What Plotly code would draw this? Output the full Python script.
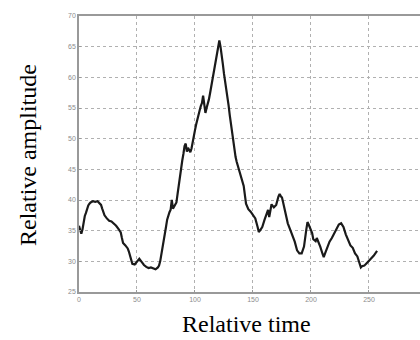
import plotly.graph_objects as go

relative_time = [
    0, 1, 2, 3, 4, 5, 6, 7, 8, 9,
    10, 12, 14, 16, 18, 19, 20, 21, 22, 24,
    26, 28, 30, 32, 34, 36, 37, 38, 40, 42,
    43, 44, 45, 46, 48, 50, 52, 54, 55, 56,
    58, 60, 62, 64, 66, 68, 69, 70, 71, 72,
    73, 74, 75, 76, 77, 78, 79, 80, 81, 82,
    83, 84, 85, 86, 87, 88, 89, 90, 91, 92,
    93, 94, 95, 96, 97, 98, 99, 100, 101, 102,
    103, 104, 105, 106, 107, 108, 109, 110, 111, 112,
    113, 114, 115, 116, 117, 118, 119, 120, 121, 122,
    123, 124, 125, 126, 127, 128, 129, 130, 131, 132,
    133, 134, 135, 136, 137, 138, 140, 142, 144, 146,
    148, 150, 152, 154, 155, 156, 158, 160, 162, 163,
    164, 165, 166, 168, 170, 172, 173, 174, 175, 176,
    178, 180, 182, 184, 186, 188, 190, 192, 194, 196,
    197, 198, 200, 201, 202, 204, 205, 206, 208, 210,
    211, 212, 214, 216, 218, 220, 222, 224, 226, 228,
    230, 232, 234, 236, 238, 240, 242, 243, 244, 246,
    248, 250, 252, 254, 256, 257,
]

relative_amplitude = [
    35.8, 35.0, 34.5, 35.2, 36.5, 37.4, 37.9, 38.6, 39.1, 39.4,
    39.6, 39.8, 39.7, 39.8, 39.5, 39.2, 38.6, 38.0, 37.5, 37.0,
    36.6, 36.5, 36.2, 35.8, 35.3, 34.7, 33.8, 33.0, 32.6, 32.1,
    31.6, 30.8, 30.1, 29.6, 29.5, 29.9, 30.4, 29.9, 29.6, 29.4,
    29.1, 28.9, 29.0, 28.8, 28.7, 29.0, 29.3, 30.0, 31.0, 32.3,
    33.6, 34.6, 35.6, 36.8, 37.6, 38.0, 38.4, 40.0, 38.6, 38.9,
    39.1, 39.6, 41.0, 42.6, 43.8, 45.2, 46.4, 47.5, 48.8, 49.2,
    47.9, 48.5, 48.2, 47.8, 48.4, 49.6, 50.4, 51.4, 52.3, 53.2,
    54.0, 54.6, 55.3, 55.8, 57.0, 55.4, 54.2, 55.0, 55.6, 56.4,
    57.4, 58.5, 59.4, 60.4, 61.3, 62.3, 63.4, 64.6, 66.0, 65.0,
    63.8, 62.2, 60.6, 59.4, 58.2, 56.6, 55.4, 53.8, 52.3, 50.6,
    49.2, 48.0, 47.0, 46.2, 45.6, 44.9, 43.6, 42.3, 39.4, 38.5,
    38.1, 37.6, 37.0, 35.6, 34.8, 35.0, 35.6, 36.8, 38.0, 38.4,
    37.2, 38.6, 39.3, 38.8, 39.2, 40.6, 41.0, 40.6, 40.4, 39.6,
    37.6, 36.2, 35.2, 34.2, 33.2, 31.8, 31.3, 31.3, 32.4, 35.2,
    36.4, 36.0, 35.0, 34.6, 33.6, 33.3, 33.8, 33.4, 32.4, 31.2,
    30.7, 31.2, 32.3, 33.2, 33.8, 34.6, 35.3, 36.0, 36.2, 35.6,
    34.4, 33.4, 32.6, 32.2, 31.3, 30.8, 29.6, 29.0, 29.2, 29.3,
    29.7, 30.2, 30.5, 30.9, 31.4, 31.7,
]

x_ticks = [0, 50, 100, 150, 200, 250, 300]
y_ticks = [25, 30, 35, 40, 45, 50, 55, 60, 65, 70]

fig = go.Figure()
fig.add_trace(go.Scatter(
    x=relative_time, y=relative_amplitude, mode="lines",
    line=dict(color="#1a1a1a", width=2.2), showlegend=False,
))

tick_font = dict(family="Liberation Sans, Arial", size=7, color="#8c8c8c")
grid = dict(showgrid=True, gridcolor="#b0b0b0", griddash="dot", gridwidth=1)

fig.update_layout(
    width=420, height=340,
    margin=dict(l=79, r=0, t=16, b=48),
    paper_bgcolor="white", plot_bgcolor="white",
    xaxis=dict(range=[0, 294], tickvals=x_ticks, ticktext=[str(v) for v in x_ticks],
               showline=True, linecolor="#999999", linewidth=1.5, mirror=True,
               ticks="inside", ticklen=2, tickcolor="#999999",
               tickfont=tick_font, zeroline=False, **grid),
    yaxis=dict(range=[25, 70], tickvals=y_ticks, ticktext=[str(v) for v in y_ticks],
               showline=True, linecolor="#999999", linewidth=1.5, mirror=False,
               ticks="inside", ticklen=2, tickcolor="#999999",
               tickfont=tick_font, zeroline=False, **grid),
    annotations=[
        dict(text="Relative time", xref="paper", yref="paper",
             x=(246 - 79) / 341, y=-(324 - 292) / 276, showarrow=False,
             xanchor="center", yanchor="middle",
             font=dict(family="Liberation Serif, Times New Roman", size=24, color="black")),
        dict(text="Relative amplitude", xref="paper", yref="paper",
             x=-(79 - 28) / 341, y=(292 - 155) / 276, showarrow=False, textangle=-90,
             xanchor="center", yanchor="middle",
             font=dict(family="Liberation Serif, Times New Roman", size=24, color="black")),
    ],
)

fig.write_html("out.html")
